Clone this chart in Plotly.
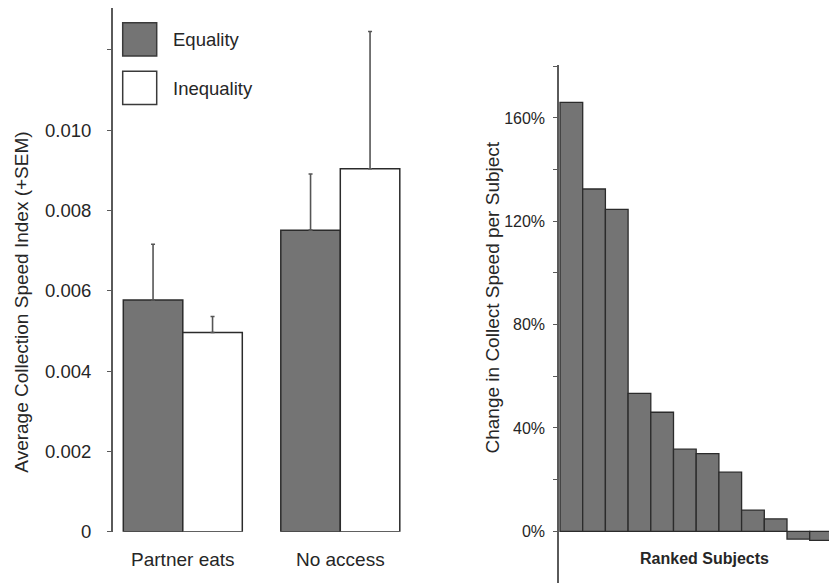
import plotly.graph_objects as go

# ---------------- data ----------------
conditions = ["Partner eats", "No access"]
series_names = ["Equality", "Inequality"]
equality_mean = [0.00577, 0.00751]
equality_sem = [0.00139, 0.00140]
inequality_mean = [0.00496, 0.00904]
inequality_sem = [0.00040, 0.00342]

left_ticks = [0, 0.002, 0.004, 0.006, 0.008, 0.010, 0.012]
left_ticktext = ["0", "0.002", "0.004", "0.006", "0.008", "0.010", ""]

subject_rank = list(range(1, 13))
change_pct = [166.0, 132.5, 124.6, 53.4, 46.1, 31.8, 30.1, 22.9, 8.2, 4.8, -3.0, -3.5]
right_ticks = [-20, 0, 20, 40, 60, 80, 100, 120, 140, 160, 180]
right_ticktext = ["", "0%", "", "40%", "", "80%", "", "120%", "", "160%", ""]

# ---------------- style ----------------
W, H = 829, 583
FONT = "Liberation Sans, Arial, Helvetica, sans-serif"
TXT = "#262626"
GRAY = "#747474"
EDGE = "#2b2b2b"
AX = "#5a5a5a"


def px(x):
    return x / W


def py(y):
    return 1 - y / H


fig = go.Figure()

xpos = list(range(len(conditions)))
fig.add_trace(go.Bar(
    x=xpos, y=equality_mean, name=series_names[0],
    marker=dict(color=GRAY, line=dict(color=EDGE, width=1.5)),
    error_y=dict(type="data", symmetric=False, array=equality_sem,
                 arrayminus=[0] * len(equality_sem), color="#555555",
                 thickness=1.6, width=2),
    xaxis="x", yaxis="y", showlegend=False))
fig.add_trace(go.Bar(
    x=xpos, y=inequality_mean, name=series_names[1],
    marker=dict(color="white", line=dict(color=EDGE, width=1.5)),
    error_y=dict(type="data", symmetric=False, array=inequality_sem,
                 arrayminus=[0] * len(inequality_sem), color="#555555",
                 thickness=1.6, width=2),
    xaxis="x", yaxis="y", showlegend=False))

fig.add_trace(go.Bar(
    x=subject_rank, y=change_pct,
    marker=dict(color=GRAY, line=dict(color=EDGE, width=1.3)),
    width=1.0, xaxis="x2", yaxis="y2", showlegend=False))

# legend drawn as boxes + labels
legend_colors = [GRAY, "white"]
for i, (nm, col) in enumerate(zip(series_names, legend_colors)):
    y0 = 22.7 + i * 48.5
    fig.add_shape(type="rect", xref="paper", yref="paper",
                  x0=px(122.7), x1=px(156.7), y0=py(y0), y1=py(y0 + 33.3),
                  fillcolor=col, line=dict(color="#3a3a3a", width=1.5))
    fig.add_annotation(xref="paper", yref="paper", x=px(171), y=py(y0 + 17),
                       text=nm, showarrow=False, xanchor="left", yanchor="middle",
                       font=dict(family=FONT, size=18.5, color=TXT))

# axis titles
fig.add_annotation(xref="paper", yref="paper", x=px(20.7), y=py(302),
                   text="Average Collection Speed Index (+SEM)", textangle=-90,
                   showarrow=False, xanchor="center", yanchor="middle",
                   font=dict(family=FONT, size=19, color=TXT))
fig.add_annotation(xref="paper", yref="paper", x=px(492), y=py(297.5),
                   text="Change in Collect Speed per Subject", textangle=-90,
                   showarrow=False, xanchor="center", yanchor="middle",
                   font=dict(family=FONT, size=19, color=TXT))
fig.add_annotation(xref="paper", yref="paper", x=px(704), y=py(558),
                   text="<b>Ranked Subjects</b>", showarrow=False,
                   xanchor="center", yanchor="middle",
                   font=dict(family=FONT, size=16, color=TXT))

# left plot geometry
bw_px = 59.5
unit_px = 157.5
x_left = -bw_px / unit_px - 11.6 / unit_px
x_right = 1 + bw_px / unit_px + 3.3 / unit_px
dom_x0 = 111.7
dom_x1 = dom_x0 + (x_right - x_left) * unit_px

y_top_val = (531.7 - 8.3) / (80.3 / 0.002)

fig.update_layout(
    width=W, height=H,
    margin=dict(l=0, r=0, t=0, b=0, autoexpand=False),
    paper_bgcolor="white", plot_bgcolor="white",
    barmode="group", bargap=1 - 2 * bw_px / unit_px, bargroupgap=0,
    font=dict(family=FONT, color=TXT),
    xaxis=dict(domain=[px(dom_x0), px(dom_x1)], range=[x_left, x_right],
               tickvals=xpos, ticktext=conditions, showline=False,
               showgrid=False, zeroline=False, ticks="",
               ticklabelstandoff=14, automargin=False,
               tickfont=dict(family=FONT, size=19, color=TXT),
               anchor="y", fixedrange=True),
    yaxis=dict(domain=[py(531.7), py(8.3)], range=[0, y_top_val],
               tickvals=left_ticks, ticktext=left_ticktext,
               showline=True, linecolor=AX, linewidth=1.5,
               ticks="outside", ticklen=4, tickcolor=AX, tickwidth=1.3,
               ticklabelstandoff=12, automargin=False,
               showgrid=False, zeroline=False,
               tickfont=dict(family=FONT, size=18.5, color=TXT),
               anchor="free", position=px(dom_x0)),
    xaxis2=dict(domain=[px(558), 1.0],
                range=[0.5 - 2 / 22.7, 0.5 + (829 - 560) / 22.7],
                showticklabels=False, showline=False, showgrid=False,
                zeroline=False, ticks="", anchor="y2", automargin=False),
    yaxis2=dict(domain=[0, py(65)], range=[-20, 180.5],
                tickvals=right_ticks, ticktext=right_ticktext,
                showline=True, linecolor=AX, linewidth=1.5,
                ticks="outside", ticklen=4, tickcolor=AX, tickwidth=1.3,
                ticklabelstandoff=5, automargin=False,
                showgrid=False, zeroline=False,
                tickfont=dict(family=FONT, size=16, color=TXT),
                anchor="free", position=px(558)),
)

fig.write_html(
    "out.html",
    config={"displayModeBar": False},
    post_script="document.body.style.margin='0';document.body.style.overflow='hidden';",
)
